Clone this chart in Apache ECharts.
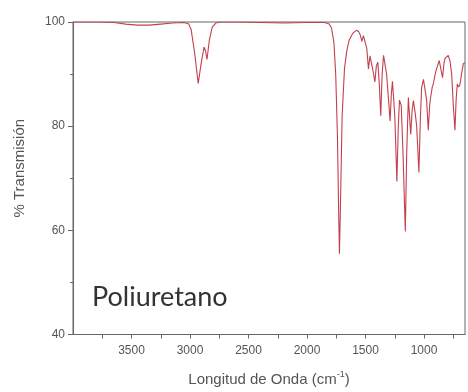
<!DOCTYPE html>
<html>
<head>
<meta charset="utf-8">
<script src="https://cdn.jsdelivr.net/npm/echarts@6/dist/echarts.min.js"></script>
<style>
  html, body { margin: 0; padding: 0; background: #fff; }
  #chart { width: 468px; height: 392px; }
</style>
</head>
<body>
<div id="chart"></div>
<script>
// FTIR spectrum of polyurethane: wavenumber (cm-1) and % transmission
const wavenumbers = [4000, 3800, 3650, 3550, 3450, 3350, 3250, 3150, 3050, 3010, 2990, 2960, 2930, 2905, 2880, 2868, 2855, 2835, 2810, 2780, 2740, 2600, 2400, 2200, 2000, 1850, 1810, 1790, 1770, 1755, 1740, 1730, 1723, 1715, 1700, 1680, 1660, 1640, 1610, 1580, 1560, 1545, 1531, 1518, 1505, 1490, 1475, 1462, 1450, 1435, 1420, 1408, 1395, 1382, 1370, 1358, 1346, 1320, 1290, 1280, 1270, 1250, 1232, 1220, 1210, 1195, 1180, 1160, 1148, 1134, 1124, 1114, 1102, 1091, 1075, 1063, 1044, 1032, 1021, 1005, 993, 978, 964, 952, 944, 930, 921, 905, 893, 870, 855, 842, 830, 821, 806, 793, 778, 764, 750, 736, 726, 716, 704, 693, 680, 664, 650];
const transmission = [100, 100, 99.9, 99.6, 99.4, 99.4, 99.6, 99.8, 99.9, 99.6, 98.5, 94, 88.2, 92, 95.2, 94.5, 92.8, 96.5, 99, 99.8, 100, 100, 99.9, 99.8, 99.9, 99.9, 99.6, 98.8, 96, 90, 78, 64, 55.5, 64, 82, 91, 94.5, 96.5, 97.8, 98.4, 98.2, 97.5, 96.3, 97.4, 97.6, 95, 91, 93.5, 93.8, 90.5, 88.5, 91.5, 92.3, 88, 82, 90, 93.6, 90, 81, 86, 88.6, 82, 69.4, 80, 85, 84, 75, 59.8, 75, 85.5, 82, 78.4, 83, 84.9, 82.4, 80, 71.1, 81, 87.4, 89, 89.3, 85, 79.2, 84, 85.5, 87.5, 88.1, 90, 91, 92.6, 92.5, 89.3, 92, 93, 93.2, 93.6, 92.5, 90, 84, 79.2, 85, 88.1, 87.5, 88, 90, 92, 92.2];

// labelled wavenumbers and all tick positions (including the in-between ones)
const xLabelValues = [3500, 3000, 2500, 2000, 1500, 1000];
const xTickValues = [3750, 3500, 3250, 3000, 2750, 2500, 2250, 2000, 1750, 1500, 1250, 1000, 750];
const sampleName = 'Poliuretano';

const spectrum = wavenumbers.map((w, i) => [w, transmission[i]]);

const font = 'Liberation Sans, Arial, sans-serif';
const axisColor = '#555';

const chart = echarts.init(document.getElementById('chart'), null, { renderer: 'canvas' });
chart.setOption({
  animation: false,
  backgroundColor: '#fff',
  grid: {
    left: 73, right: 3, top: 22, bottom: 57,
    show: true, borderColor: '#666', borderWidth: 1, backgroundColor: 'transparent'
  },
  xAxis: {
    type: 'value', inverse: true, min: 650, max: 4000,
    name: 'Longitud de Onda (cm{sup|-1})',
    nameLocation: 'middle', nameGap: 36,
    nameTextStyle: {
      color: axisColor, fontSize: 15, fontFamily: font,
      rich: { sup: { fontSize: 9, color: axisColor, fontFamily: font, padding: [0, 0, 9, 0] } }
    },
    axisLine: { show: true, onZero: false, lineStyle: { color: '#666', width: 1 } },
    axisTick: { show: true, length: 4, customValues: xTickValues, lineStyle: { color: '#666' } },
    axisLabel: {
      customValues: xLabelValues, color: axisColor, fontSize: 12, fontFamily: font, margin: 10,
      formatter: v => String(v)
    },
    splitLine: { show: false }
  },
  yAxis: {
    type: 'value', min: 40, max: 100, interval: 20,
    name: '% Transmisión', nameLocation: 'middle', nameGap: 46, nameRotate: 90,
    nameTextStyle: { color: axisColor, fontSize: 15, fontFamily: font, padding: [0, 0, 0, 20] },
    axisLine: { show: true, lineStyle: { color: '#666', width: 1 } },
    axisTick: { show: true, length: 5, lineStyle: { color: '#666' } },
    minorTick: { show: true, splitNumber: 2, length: 3, lineStyle: { color: '#666' } },
    axisLabel: { color: axisColor, fontSize: 12, fontFamily: font, margin: 8 },
    splitLine: { show: false }
  },
  graphic: [{
    type: 'text', left: 92, top: 284,
    style: { text: sampleName, fontSize: 27, fontFamily: 'Lato, Open Sans, sans-serif', fill: '#333' }
  }],
  series: [{
    type: 'line', data: spectrum,
    showSymbol: false, smooth: false,
    lineStyle: { color: '#c2404c', width: 1.1 }
  }]
});
</script>
</body>
</html>
